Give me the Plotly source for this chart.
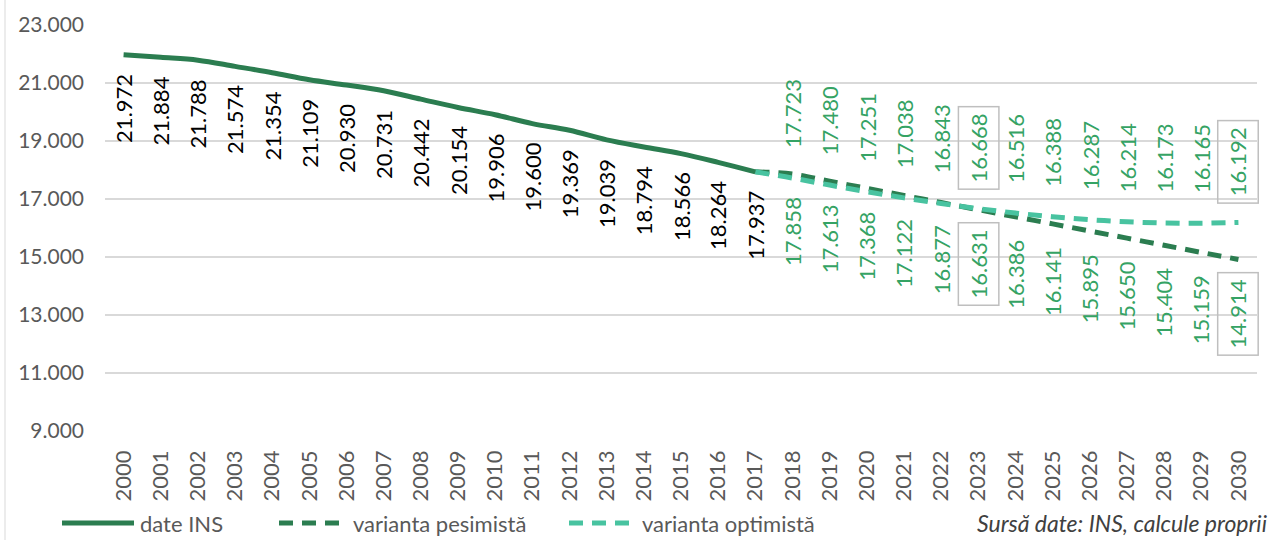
import plotly.graph_objects as go

years_hist = list(range(2000, 2018))
values_hist = [21972, 21884, 21788, 21574, 21354, 21109, 20930, 20731, 20442,
               20154, 19906, 19600, 19369, 19039, 18794, 18566, 18264, 17937]

years_proj = list(range(2018, 2031))
values_pes = [17858, 17613, 17368, 17122, 16877, 16631, 16386, 16141, 15895,
              15650, 15404, 15159, 14914]
values_opt = [17723, 17480, 17251, 17038, 16843, 16668, 16516, 16388, 16287,
              16214, 16173, 16165, 16192]
boxed_years = [2023, 2030]

W, H = 1274, 540
ML, MR, MT, MB = 105, 17, 25, 109
PW, PH = W - ML - MR, H - MT - MB

DARK = "#2b7d50"
LIGHT = "#48c3a0"
LABEL_GREEN = "#35a364"
GREY = "#595959"
FONT = "Lato"
FS = 22
LS = 22  # data labels


def px(x):
    return (x - ML) / PW


def py(y):
    return (H - MB - y) / PH


def fmt(v):
    return f"{v:,}".replace(",", ".")


fig = go.Figure()

# projections start from the last observed point
fig.add_trace(go.Scatter(x=[years_hist[-1]] + years_proj, y=[values_hist[-1]] + values_pes,
                         mode="lines", line=dict(color=DARK, width=5, dash="14px,9px", shape="spline"),
                         name="varianta pesimistă"))
fig.add_trace(go.Scatter(x=[years_hist[-1]] + years_proj, y=[values_hist[-1]] + values_opt,
                         mode="lines", line=dict(color=LIGHT, width=5, dash="14px,9px", shape="spline"),
                         name="varianta optimistă"))
fig.add_trace(go.Scatter(x=years_hist, y=values_hist, mode="lines",
                         line=dict(color=DARK, width=5, shape="spline"), name="date INS"))

annotations = []
for x, v in zip(years_hist, values_hist):
    annotations.append(dict(x=x, y=v, text=fmt(v), textangle=-90, showarrow=False,
                            yanchor="top", yshift=-17, font=dict(color="#000000", size=LS, family=FONT)))

for x, v in zip(years_proj, values_pes):
    boxed = x in boxed_years
    annotations.append(dict(x=x, y=v, text=fmt(v), textangle=-90, showarrow=False,
                            yanchor="top", yshift=-12 if boxed else -17,
                            bordercolor="#bfbfbf" if boxed else None, borderwidth=1.5 if boxed else 0,
                            borderpad=6, font=dict(color=LABEL_GREEN, size=LS, family=FONT)))

for x, v in zip(years_proj, values_opt):
    boxed = x in boxed_years
    annotations.append(dict(x=x, y=v, text=fmt(v), textangle=-90, showarrow=False,
                            yanchor="bottom", yshift=19 if boxed else 24,
                            bordercolor="#bfbfbf" if boxed else None, borderwidth=1.5 if boxed else 0,
                            borderpad=6, font=dict(color=LABEL_GREEN, size=LS, family=FONT)))

# custom legend
ly = py(523)
shapes = [
    dict(type="line", xref="paper", yref="paper", x0=px(5), x1=px(5), y0=py(0), y1=py(540),
         line=dict(color="#d9d9d9", width=1)),
    dict(type="line", xref="paper", yref="paper", x0=px(62), x1=px(134), y0=ly, y1=ly,
         line=dict(color=DARK, width=5)),
    dict(type="line", xref="paper", yref="paper", x0=px(279), x1=px(345), y0=ly, y1=ly,
         line=dict(color=DARK, width=5, dash="14px,9px")),
    dict(type="line", xref="paper", yref="paper", x0=px(569), x1=px(635), y0=ly, y1=ly,
         line=dict(color=LIGHT, width=5, dash="14px,9px")),
]
legend_items = [("date INS", 138), ("varianta pesimistă", 351), ("varianta optimistă", 640)]
for text, xpos in legend_items:
    annotations.append(dict(xref="paper", yref="paper", x=px(xpos), y=ly, text=text, showarrow=False,
                            xanchor="left", yanchor="middle", font=dict(color=GREY, size=FS, family=FONT)))
annotations.append(dict(xref="paper", yref="paper", x=px(1269), y=ly, text="<i>Sursă date: INS, calcule proprii</i>",
                        showarrow=False, xanchor="right", yanchor="middle",
                        font=dict(color="#404040", size=23, family=FONT)))

fig.update_layout(
    width=W, height=H,
    margin=dict(l=ML, r=MR, t=MT, b=MB),
    plot_bgcolor="white", paper_bgcolor="white",
    separators=",.",
    showlegend=False,
    annotations=annotations,
    shapes=shapes,
    font=dict(family=FONT, size=FS, color=GREY),
)
fig.update_xaxes(range=[1999.5, 2030.5], tickmode="array", tickvals=years_hist + years_proj,
                 ticktext=[str(y) for y in years_hist + years_proj], tickangle=-90,
                 showgrid=False, zeroline=False, showline=False, ticks="",
                 ticklabelstandoff=14, tickfont=dict(size=22, color=GREY, family=FONT))
fig.update_yaxes(range=[9000, 23000], dtick=2000, tick0=9000, tickformat=",d",
                 gridcolor="#d9d9d9", gridwidth=1.5, zeroline=False, showline=False,
                 ticklabelstandoff=20, tickfont=dict(size=21, color=GREY, family=FONT))

fig.write_html("out.html", config={"displayModeBar": False},
               post_script="document.body.style.margin='0px';")
